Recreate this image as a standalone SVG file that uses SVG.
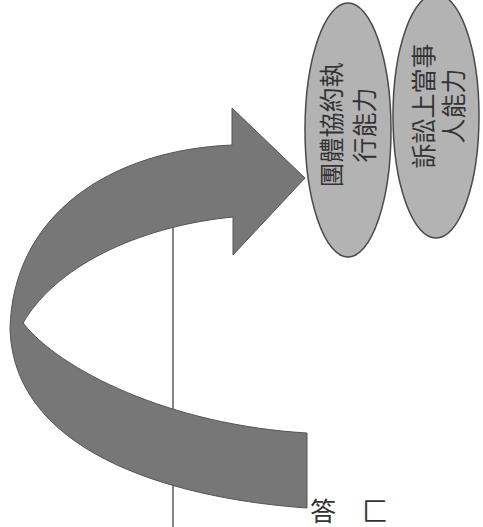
<svg xmlns="http://www.w3.org/2000/svg" width="483" height="527" viewBox="0 0 483 527">
  <style>
    .node ellipse { fill: #b3b3b3; stroke: #4a4a4a; stroke-width: 1.5; }
    .lbl { font-family: "Noto Sans CJK TC", "Noto Sans CJK SC", sans-serif; font-size: 25px; fill: #333333; text-anchor: middle; }
    .part { font-family: "Noto Sans CJK TC", "Noto Sans CJK SC", sans-serif; font-size: 26px; fill: #333333; }
    .arrow { fill: #777777; stroke: #555555; stroke-width: 1; }
    .rule { stroke: #333333; stroke-width: 1.2; fill: none; }
  </style>
  <rect width="483" height="527" fill="#ffffff"/>
  <g id="connectors">
    <line class="rule" x1="173" y1="228" x2="173" y2="527"/>
    <path class="arrow" d="M 232,145 L 232,108 L 305,178 L 233,255 L 233,217 C 150,225 60,260 23,323 C 60,370 170,425 307,433 L 307,508 C 190,500 15,460 10,330 C 12,215 110,150 232,145 Z"/>
  </g>
  <g id="node-litigation">
    <g class="node">
      <ellipse cx="436" cy="116" rx="43" ry="122"/>
    </g>
    <g transform="translate(436,106) rotate(-90)">
      <text class="lbl" x="0" y="-3.5">訴訟上當事</text>
      <text class="lbl" x="0" y="26.5">人能力</text>
    </g>
  </g>
  <g id="node-collective">
    <g class="node">
      <ellipse cx="348" cy="130" rx="43" ry="127"/>
    </g>
    <g transform="translate(348,125) rotate(-90)">
      <text class="lbl" x="0" y="-7">團體協約執</text>
      <text class="lbl" x="0" y="26">行能力</text>
    </g>
  </g>
  <g id="partial-text">
    <text class="part" x="310" y="521">答</text>
    <text class="part" x="362" y="521">匚</text>
  </g>
</svg>
